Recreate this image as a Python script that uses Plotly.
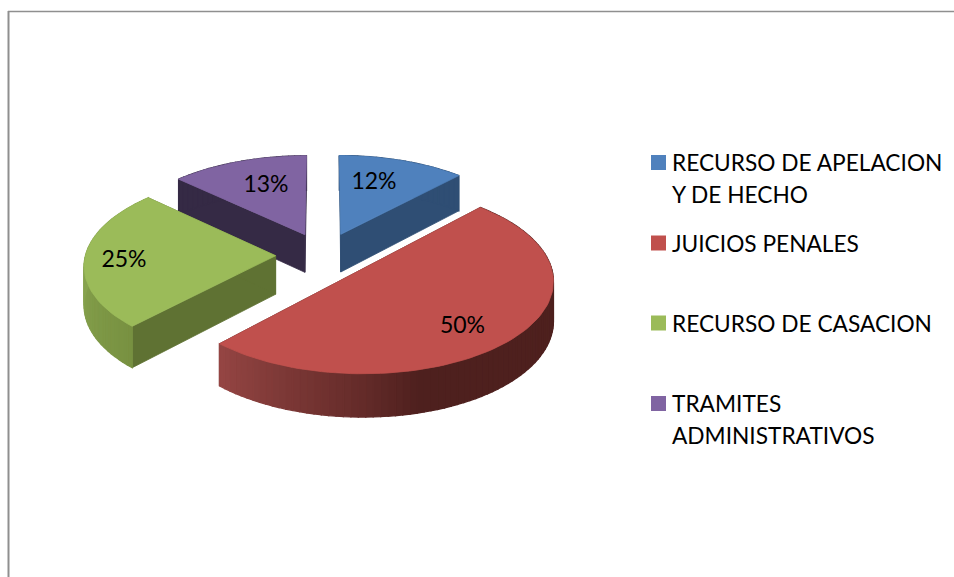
from __future__ import annotations

import math

import plotly.graph_objects as go

# chart data
categories = [
    ["RECURSO DE APELACION", "Y DE HECHO"],
    ["JUICIOS PENALES"],
    ["RECURSO DE CASACION"],
    ["TRAMITES", "ADMINISTRATIVOS"],
]
shares = [12, 50, 25, 13]

# look of each slice
TOP_COLORS = ["#4f81bd", "#c0504d", "#9bbb59", "#8064a2"]
EDGE_COLORS = ["#2f4e74", "#4c1f1d", "#5f7233", "#352a45"]
# wall shading along the rim: (angle in degrees clockwise from top, rgb)
RIM_SHADES = [
    [(0, (47, 78, 116)), (50, (47, 78, 116))],
    [(43, (78, 32, 30)), (165, (78, 32, 30)), (180, (100, 43, 41)), (224, (150, 70, 68))],
    [(223, (120, 145, 65)), (270, (135, 163, 78)), (314, (135, 163, 78))],
    [(313, (53, 42, 69)), (360, (53, 42, 69))],
]

# projection of the tilted pie onto the page (page is in pixels)
ORIGIN_X, ORIGIN_Y = 323.5, 255
SCALE_X, SCALE_Y = 190, 90
PERSPECTIVE = 0.095
EXPLODE = 0.252
DEPTH = 38.5

LABEL_X = [374, 266, 124, 462.5]
LABEL_Y = [183, 186, 261, 327]
LABEL_SLICE = [0, 3, 2, 1]
KEY_X = 658.5
KEY_Y = [162.5, 243, 323, 403.5]
LEGEND_TEXT_X = 670
LEGEND_LINE_Y = [[162, 194], [243], [323], [403, 435]]
FONT = "Lato"
LABEL_SIZE = 23
LEGEND_SIZE = 22.7


def project(px: float, py: float, drop: float = 0.0) -> tuple[float, float]:
    w = 1 + PERSPECTIVE * py
    return ORIGIN_X + SCALE_X * px / w, ORIGIN_Y - SCALE_Y * py / w + drop * DEPTH / w


def rim_point(theta: float, apex: tuple[float, float], drop: float = 0.0) -> tuple[float, float]:
    rad = math.radians(theta)
    return project(apex[0] + math.sin(rad), apex[1] + math.cos(rad), drop)


def rim_color(stops: list, theta: float) -> str:
    for (a0, c0), (a1, c1) in zip(stops, stops[1:]):
        if a0 <= theta <= a1:
            t = (theta - a0) / (a1 - a0)
            rgb = [round(u + (v - u) * t) for u, v in zip(c0, c1)]
            return f"rgb({rgb[0]},{rgb[1]},{rgb[2]})"
    return f"rgb{stops[-1][1]}"


def polygon(points: list, color: str, width: float = 0.8) -> go.Scatter:
    return go.Scatter(
        x=[p[0] for p in points] + [points[0][0]],
        y=[p[1] for p in points] + [points[0][1]],
        mode="lines",
        fill="toself",
        fillcolor=color,
        line=dict(color=color, width=width),
        hoverinfo="skip",
        showlegend=False,
    )


def arc_steps(start: float, end: float, step: float = 2.0) -> list[float]:
    count = max(2, int((end - start) / step))
    return [start + (end - start) * i / count for i in range(count + 1)]


fig = go.Figure()

# slice angles from the shares, starting at twelve o'clock
total = sum(shares)
bounds = []
running = 0.0
for share in shares:
    bounds.append((running, running + 360 * share / total))
    running += 360 * share / total

# back to front so nearer slices cover the farther ones
for i in [3, 0, 2, 1]:
    start, end = bounds[i]
    mid = math.radians((start + end) / 2)
    apex = (EXPLODE * math.sin(mid), EXPLODE * math.cos(mid))

    for theta in (start, end):
        fig.add_trace(polygon([
            project(*apex),
            rim_point(theta, apex),
            rim_point(theta, apex, 1),
            project(*apex, 1),
        ], EDGE_COLORS[i]))

    steps = arc_steps(start, end)
    for a, b in zip(steps, steps[1:]):
        fig.add_trace(polygon([
            rim_point(a, apex),
            rim_point(b, apex),
            rim_point(b, apex, 1),
            rim_point(a, apex, 1),
        ], rim_color(RIM_SHADES[i], (a + b) / 2), width=1.3))

    fig.add_trace(polygon([project(*apex)] + [rim_point(t, apex) for t in steps], TOP_COLORS[i]))

fig.add_trace(go.Scatter(
    x=LABEL_X,
    y=LABEL_Y,
    mode="text",
    text=[f"{shares[i]}%" for i in LABEL_SLICE],
    textfont=dict(family=FONT, size=LABEL_SIZE, color="#000000"),
    hoverinfo="skip",
    showlegend=False,
))

# legend is drawn by hand, its rows are unevenly spaced
fig.add_trace(go.Scatter(
    x=[KEY_X] * len(KEY_Y),
    y=KEY_Y,
    mode="markers",
    marker=dict(symbol="square", size=15, color=TOP_COLORS, line_width=0),
    hoverinfo="skip",
    showlegend=False,
))
for lines, ys in zip(categories, LEGEND_LINE_Y):
    for line, y in zip(lines, ys):
        fig.add_annotation(
            x=LEGEND_TEXT_X, y=y, text=line, showarrow=False, xanchor="left", yanchor="middle",
            font=dict(family=FONT, size=LEGEND_SIZE, color="#000000"),
        )

# frame of the pasted chart
fig.add_shape(type="line", x0=8.5, x1=8.5, y0=11, y1=577, line=dict(color="#8f8f8f", width=2))
fig.add_shape(type="line", x0=8, x1=954, y0=11.5, y1=11.5, line=dict(color="#8f8f8f", width=1.5))

fig.update_layout(
    width=954,
    height=577,
    margin=dict(l=0, r=0, t=0, b=0),
    paper_bgcolor="white",
    plot_bgcolor="white",
    xaxis=dict(range=[0, 954], visible=False),
    yaxis=dict(range=[577, 0], visible=False),
)

fig.write_html(
    "out.html",
    config=dict(displayModeBar=False),
    post_script="document.body.style.margin='0';document.body.style.overflow='hidden';",
)
